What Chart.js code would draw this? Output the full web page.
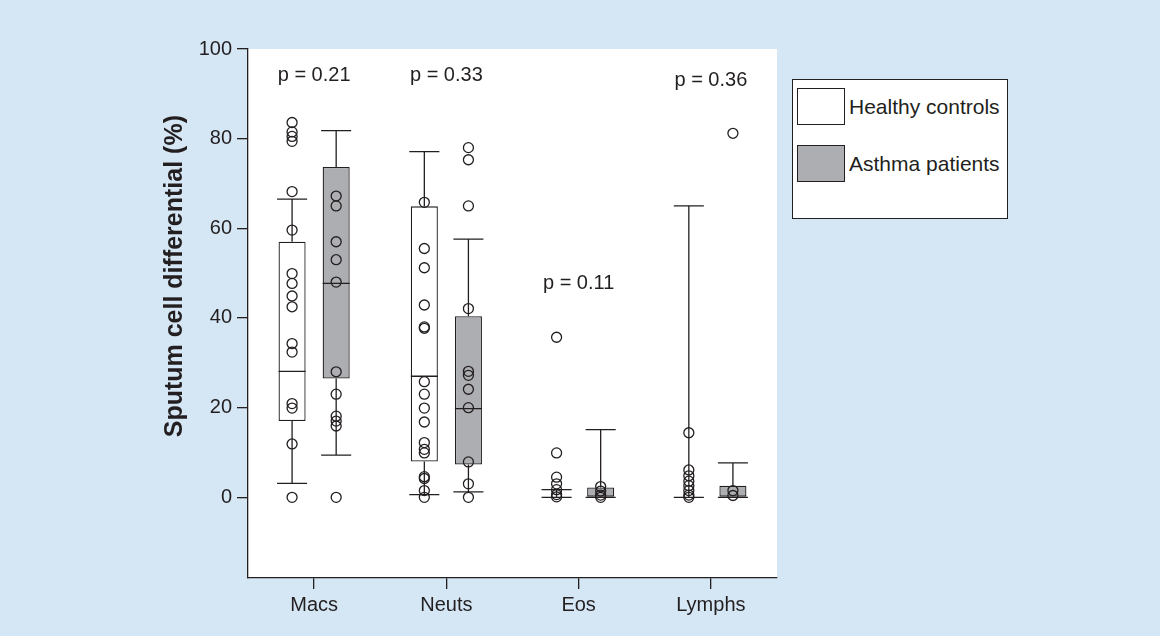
<!DOCTYPE html>
<html>
<head>
<meta charset="utf-8">
<title>Sputum cell differential</title>
<script src="https://cdn.jsdelivr.net/npm/chart.js@4.4.0/dist/chart.umd.min.js"></script>
<style>
    html, body { margin: 0; padding: 0; background: #d5e6f4; }
    #wrap { position: relative; width: 1160px; height: 636px; }
    #chart { position: absolute; left: 0; top: 0; }
    .legend {
        position: absolute; left: 792px; top: 79px; width: 216px; height: 140px;
        box-sizing: border-box; border: 1px solid #231f20; background: #fff;
        font-family: 'Liberation Sans', Arial, sans-serif; font-size: 21px; color: #231f20;
    }
    .swatch { position: absolute; left: 4px; width: 48px; height: 37px; box-sizing: border-box; border: 1px solid #231f20; }
    .label { position: absolute; left: 56px; height: 37px; line-height: 37px; white-space: nowrap; }
</style>
</head>
<body>
<div id="wrap">
    <canvas id="chart" width="1160" height="636"></canvas>
    <div class="legend">
        <div class="swatch" style="top:8px; background:#ffffff;"></div>
        <div class="label" style="top:8px;">Healthy controls</div>
        <div class="swatch" style="top:65px; background:#adaeb1;"></div>
        <div class="label" style="top:65px;">Asthma patients</div>
    </div>
</div>
<script>
// categories and tick labels
const categories = ['Macs', 'Neuts', 'Eos', 'Lymphs'];
const yTicks = [0, 20, 40, 60, 80, 100];
const pValues = ['p = 0.21', 'p = 0.33', 'p = 0.11', 'p = 0.36'];
const pLabelY = [92.9, 92.9, 46.5, 91.8];

// box summaries, healthy controls
const healthyLow = [3.1, 0.6, 0, 0];
const healthyQ1 = [17.0, 8.0, 0, 0];
const healthyMedian = [28.1, 27.0, 0, 0];
const healthyQ3 = [57.0, 64.9, 0, 0];
const healthyHigh = [66.5, 77.1, 1.7, 65.0];

// box summaries, asthma patients
const asthmaLow = [9.4, 1.2, 0, 0];
const asthmaQ1 = [26.5, 7.3, 0, 0];
const asthmaMedian = [47.7, 19.8, 0, 0];
const asthmaQ3 = [73.7, 40.4, 2.2, 2.6];
const asthmaHigh = [81.8, 57.6, 15.1, 7.7];

// individual subjects
const healthyMacs = [83.6, 81.5, 80.5, 79.4, 68.2, 59.6, 49.9, 47.7, 44.9, 42.5, 34.3, 32.4, 20.9, 19.9, 11.9, 0];
const healthyNeuts = [65.8, 55.5, 51.2, 42.9, 38.0, 37.7, 25.8, 23.0, 19.9, 16.8, 12.2, 10.7, 9.9, 4.6, 4.2, 1.5, 0];
const healthyEos = [35.7, 9.9, 4.5, 3.0, 1.7, 0.6, 0.1];
const healthyLymphs = [14.4, 6.1, 4.8, 3.6, 2.6, 1.5, 0.5, 0];
const asthmaMacs = [67.2, 65.0, 57.0, 53.0, 48.0, 28.0, 23.0, 18.1, 17.0, 15.9, 0];
const asthmaNeuts = [78.0, 75.3, 65.0, 42.1, 28.1, 27.2, 24.1, 20.0, 7.9, 3.0, 0];
const asthmaEos = [2.4, 1.4, 0.5, 0];
const asthmaLymphs = [81.2, 1.5, 0.4];

const ink = '#231f20';
const family = "'Liberation Sans', Arial, sans-serif";
const groupOffset = 1 / 6;   // each box sits a sixth of a category left or right of the tick

function boxData(q1, q3, side) {
    return categories.map((c, i) => ({ x: i + side * groupOffset, y: [q1[i], q3[i]] }));
}

function pointData(lists, side) {
    const out = [];
    lists.forEach((vals, i) => vals.forEach(v => out.push({ x: i + side * groupOffset, y: v })));
    return out;
}

// white plot area on the blue page
const plotBackground = {
    id: 'plotBackground',
    beforeDraw(chart) {
        const a = chart.chartArea, ctx = chart.ctx;
        ctx.save();
        ctx.fillStyle = '#ffffff';
        ctx.fillRect(a.left, a.top, a.right - a.left, a.bottom - a.top);
        ctx.restore();
    }
};

// whiskers, caps and medians on top of the boxes
const boxLines = {
    id: 'boxLines',
    afterDatasetsDraw(chart) {
        const ctx = chart.ctx, y = chart.scales.y;
        const sets = [
            [healthyLow, healthyQ1, healthyMedian, healthyQ3, healthyHigh],
            [asthmaLow, asthmaQ1, asthmaMedian, asthmaQ3, asthmaHigh]
        ];
        ctx.save();
        ctx.strokeStyle = ink;
        ctx.lineWidth = 1.3;
        sets.forEach((s, d) => {
            chart.getDatasetMeta(d).data.forEach((bar, i) => {
                const p = bar.getProps(['x', 'width'], true);
                const half = p.width / 2, cap = half + 1.5;
                const lo = y.getPixelForValue(s[0][i]), q1 = y.getPixelForValue(s[1][i]);
                const md = y.getPixelForValue(s[2][i]), q3 = y.getPixelForValue(s[3][i]);
                const hi = y.getPixelForValue(s[4][i]);
                ctx.beginPath();
                ctx.moveTo(p.x, q3); ctx.lineTo(p.x, hi);
                ctx.moveTo(p.x - cap, hi); ctx.lineTo(p.x + cap, hi);
                ctx.moveTo(p.x, q1); ctx.lineTo(p.x, lo);
                ctx.moveTo(p.x - cap, lo); ctx.lineTo(p.x + cap, lo);
                ctx.moveTo(p.x - half, md); ctx.lineTo(p.x + half, md);
                ctx.stroke();
            });
        });
        ctx.restore();
    }
};

// p values and the rotated y title
const textLayer = {
    id: 'textLayer',
    afterDraw(chart) {
        const ctx = chart.ctx, x = chart.scales.x, y = chart.scales.y;
        ctx.save();
        ctx.fillStyle = ink;
        ctx.font = '20px ' + family;
        ctx.textAlign = 'center';
        ctx.textBaseline = 'alphabetic';
        pValues.forEach((t, i) => ctx.fillText(t, x.getPixelForValue(i), y.getPixelForValue(pLabelY[i])));

        ctx.translate(175, (y.getPixelForValue(0) + y.getPixelForValue(100)) / 2 + 3);
        ctx.rotate(-Math.PI / 2);
        ctx.font = 'bold 25px ' + family;
        ctx.textBaseline = 'middle';
        ctx.fillText('Sputum cell differential (%)', 0, 0);
        ctx.restore();
    }
};

// boxes go behind the subject circles (higher order is drawn first)
const boxStyle = {
    type: 'bar',
    order: 2,
    borderColor: ink,
    borderWidth: 1.3,
    borderSkipped: false,
    grouped: false,
    categoryPercentage: 1,
    barPercentage: 0.614
};

const pointStyle = {
    type: 'scatter',
    order: 1,
    pointRadius: 5,
    pointBorderWidth: 1.3,
    pointBorderColor: ink,
    pointBackgroundColor: 'rgba(0,0,0,0)'
};

const ctx = document.getElementById('chart').getContext('2d');
new Chart(ctx, {
    type: 'scatter',
    data: {
        datasets: [
            Object.assign({ label: 'Healthy controls', data: boxData(healthyQ1, healthyQ3, -1), backgroundColor: '#ffffff' }, boxStyle),
            Object.assign({ label: 'Asthma patients', data: boxData(asthmaQ1, asthmaQ3, 1), backgroundColor: '#adaeb1' }, boxStyle),
            Object.assign({ label: 'Healthy subjects', data: pointData([healthyMacs, healthyNeuts, healthyEos, healthyLymphs], -1) }, pointStyle),
            Object.assign({ label: 'Asthma subjects', data: pointData([asthmaMacs, asthmaNeuts, asthmaEos, asthmaLymphs], 1) }, pointStyle)
        ]
    },
    options: {
        responsive: false,
        animation: false,
        layout: { padding: { left: 0, top: 49, right: 383, bottom: 0 } },
        plugins: {
            legend: { display: false },
            tooltip: { enabled: false }
        },
        scales: {
            x: {
                type: 'linear',
                min: -0.5,
                max: 3.5,
                offset: false,
                afterBuildTicks: s => { s.ticks = categories.map((c, i) => ({ value: i })); },
                grid: { offset: false, drawOnChartArea: false, tickLength: 11, color: ink, lineWidth: 1.3 },
                border: { color: ink, width: 1.3 },
                ticks: {
                    color: ink, font: { size: 20, family: family }, padding: 4,
                    callback: v => categories[v]
                },
                afterFit: s => { s.height = 58; }
            },
            y: {
                type: 'linear',
                min: -18,
                max: 100,
                afterBuildTicks: s => { s.ticks = yTicks.map(v => ({ value: v })); },
                grid: { drawOnChartArea: false, tickLength: 11, color: ink, lineWidth: 1.3 },
                border: { color: ink, width: 1.3 },
                ticks: { color: ink, font: { size: 20, family: family }, padding: 5 },
                afterFit: s => { s.width = 248; }
            }
        }
    },
    plugins: [plotBackground, boxLines, textLayer]
});
</script>
</body>
</html>
